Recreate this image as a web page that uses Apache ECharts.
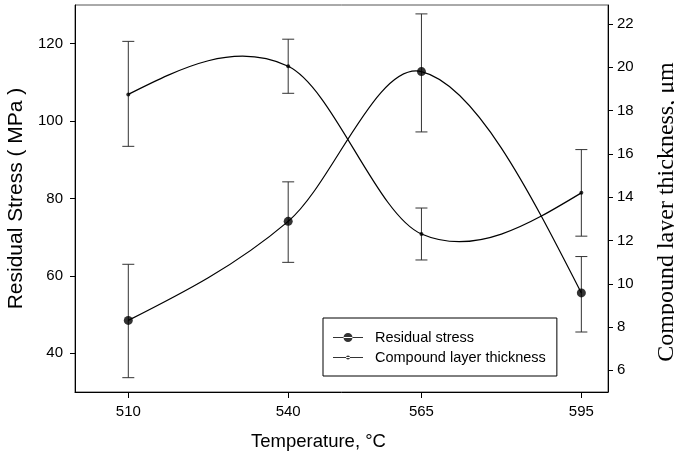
<!DOCTYPE html>
<html>
<head>
<meta charset="utf-8">
<script src="https://cdn.jsdelivr.net/npm/echarts@6/dist/echarts.min.js"></script>
<style>
  html, body { margin: 0; padding: 0; background: #fff; }
  #chart { width: 674px; height: 462px; }
</style>
</head>
<body>
<div id="chart"></div>
<script>
// ---- data ----
const temps = [510, 540, 565, 595];
const xTicks = [510, 540, 565, 595];
const leftTicks = [40, 60, 80, 100, 120];
const rightTicks = [6, 8, 10, 12, 14, 16, 18, 20, 22];

const stress = [48.5, 74.1, 112.8, 55.6];
const stressLow = [33.7, 63.5, 97.2, 45.5];
const stressHigh = [63.0, 84.3, 127.7, 65.0];

const thick = [18.75, 20.05, 12.3, 14.2];
const thickLow = [16.35, 18.8, 11.1, 12.2];
const thickHigh = [21.2, 21.3, 13.5, 16.2];

// ---- helpers ----
// tangents for a Catmull-Rom style spline through (xs, ys) with free ends;
// the connecting curve is drawn as cubic Bezier segments between data points
function splineSlopes(xs, ys) {
  const n = xs.length;
  const d = [];
  for (let i = 0; i < n - 1; i++) d.push((ys[i + 1] - ys[i]) / (xs[i + 1] - xs[i]));
  const s = new Array(n);
  for (let i = 1; i < n - 1; i++) s[i] = (ys[i + 1] - ys[i - 1]) / (xs[i + 1] - xs[i - 1]);
  s[0] = (3 * d[0] - s[1]) / 2;
  s[n - 1] = (3 * d[n - 2] - s[n - 2]) / 2;
  return s;
}

function makeCurveRender(xs, ys) {
  const slopes = splineSlopes(xs, ys);
  return function (params, api) {
    const i = params.dataIndex;
    if (i >= xs.length - 1) return null;
    const hx = (xs[i + 1] - xs[i]) / 3;
    const p0 = api.coord([xs[i], ys[i]]);
    const c1 = api.coord([xs[i] + hx, ys[i] + slopes[i] * hx]);
    const c2 = api.coord([xs[i + 1] - hx, ys[i + 1] - slopes[i + 1] * hx]);
    const p1 = api.coord([xs[i + 1], ys[i + 1]]);
    return {
      type: 'bezierCurve',
      shape: { x1: p0[0], y1: p0[1], cpx1: c1[0], cpy1: c1[1], cpx2: c2[0], cpy2: c2[1], x2: p1[0], y2: p1[1] },
      style: { stroke: '#000', lineWidth: 1.2, fill: null }
    };
  };
}

function errRender(params, api) {
  const x = api.value(0);
  const lo = api.coord([x, api.value(1)]);
  const hi = api.coord([x, api.value(2)]);
  const w = 6;
  const style = { stroke: '#333', lineWidth: 1 };
  return {
    type: 'group',
    children: [
      { type: 'line', shape: { x1: lo[0], y1: lo[1], x2: hi[0], y2: hi[1] }, style },
      { type: 'line', shape: { x1: lo[0] - w, y1: lo[1], x2: lo[0] + w, y2: lo[1] }, style },
      { type: 'line', shape: { x1: hi[0] - w, y1: hi[1], x2: hi[0] + w, y2: hi[1] }, style }
    ]
  };
}

// ---- build ----
const stressData = temps.map((t, i) => [t, stress[i]]);
const thickData = temps.map((t, i) => [t, thick[i]]);
const stressErr = temps.map((t, i) => [t, stressLow[i], stressHigh[i]]);
const thickErr = temps.map((t, i) => [t, thickLow[i], thickHigh[i]]);

const sans = '"Liberation Sans", Arial, sans-serif';
const serif = '"Liberation Serif", "Times New Roman", serif';

// legend icons: a short line with a dot (big / small), bbox 30 x 9
const iconBig = 'path://M15,1.5L15,1.5M0,5.4L30,5.4L30,6.6L0,6.6ZM10.5,6A4.5,4.5,0,1,0,19.5,6A4.5,4.5,0,1,0,10.5,6Z';
const iconSmall = 'path://M15,1.5L15,1.5M15,10.5L15,10.5M0,5.4L30,5.4L30,6.6L0,6.6ZM13,6A2,2,0,1,0,17,6A2,2,0,1,0,13,6Z';

const tickStyle = (vals) => ({ show: true, inside: false, length: 5, lineStyle: { color: '#000' }, customValues: vals });

const chart = echarts.init(document.getElementById('chart'), null, { renderer: 'canvas' });
chart.setOption({
  animation: false,
  backgroundColor: '#fff',
  grid: {
    left: 75, right: 66, top: 5, bottom: 70,
    containLabel: false, outerBoundsMode: 'none',
    show: true, borderColor: '#555', borderWidth: 1
  },
  legend: {
    show: true,
    orient: 'vertical',
    left: 323,
    top: 318,
    data: [
      { name: 'Residual stress', icon: iconBig },
      { name: 'Compound layer thickness', icon: iconSmall }
    ],
    itemWidth: 30,
    itemHeight: 9,
    itemGap: 5,
    padding: [12, 11, 11, 10],
    borderColor: '#000',
    borderWidth: 1,
    backgroundColor: '#fff',
    itemStyle: { color: '#000' },
    textStyle: { fontFamily: sans, fontSize: 14.5, color: '#000', padding: [0, 0, 0, 7] }
  },
  xAxis: {
    type: 'value', min: 500, max: 600,
    axisLine: { show: true, lineStyle: { color: '#000' } },
    axisTick: Object.assign(tickStyle(xTicks), { length: 6 }),
    splitLine: { show: false },
    axisLabel: { customValues: xTicks, fontFamily: sans, fontSize: 15, color: '#000', margin: 12 },
    name: 'Temperature, °C',
    nameLocation: 'middle',
    nameGap: 40,
    nameTextStyle: { fontFamily: sans, fontSize: 18.5, color: '#000', padding: [0, 46, 0, 0] }
  },
  yAxis: [
    {
      type: 'value', min: 30, max: 130, position: 'left',
      axisLine: { show: true, lineStyle: { color: '#000' } },
      axisTick: tickStyle(leftTicks),
      splitLine: { show: false },
      axisLabel: { customValues: leftTicks, fontFamily: sans, fontSize: 15, color: '#000', margin: 12 },
      name: 'Residual Stress ( MPa )',
      nameLocation: 'middle',
      nameRotate: 90,
      nameGap: 48,
      nameTextStyle: { fontFamily: sans, fontSize: 21, color: '#000' }
    },
    {
      type: 'value', min: 5, max: 22.88, position: 'right',
      axisLine: { show: true, lineStyle: { color: '#000' } },
      axisTick: tickStyle(rightTicks),
      splitLine: { show: false },
      axisLabel: { customValues: rightTicks, fontFamily: sans, fontSize: 15, color: '#000', margin: 9 },
      name: 'Compound layer thickness, μm',
      nameLocation: 'middle',
      nameRotate: 90,
      nameGap: 47,
      nameTextStyle: { fontFamily: serif, fontSize: 24, color: '#000', padding: [0, 27, 0, 0] }
    }
  ],
  series: [
    {
      type: 'custom', yAxisIndex: 0, renderItem: errRender,
      data: stressErr, z: 1, silent: true, encode: { x: 0, y: [1, 2] }
    },
    {
      type: 'custom', yAxisIndex: 1, renderItem: errRender,
      data: thickErr, z: 1, silent: true, encode: { x: 0, y: [1, 2] }
    },
    {
      type: 'custom', yAxisIndex: 0, renderItem: makeCurveRender(temps, stress),
      data: stressData, z: 2, silent: true, encode: { x: 0, y: 1 }
    },
    {
      type: 'custom', yAxisIndex: 1, renderItem: makeCurveRender(temps, thick),
      data: thickData, z: 2, silent: true, encode: { x: 0, y: 1 }
    },
    {
      type: 'scatter', name: 'Residual stress', yAxisIndex: 0, data: stressData,
      symbol: 'circle', symbolSize: 9, itemStyle: { color: '#000' }, z: 3
    },
    {
      type: 'scatter', name: 'Compound layer thickness', yAxisIndex: 1, data: thickData,
      symbol: 'circle', symbolSize: 4, itemStyle: { color: '#000' }, z: 3
    }
  ]
});
</script>
</body>
</html>
